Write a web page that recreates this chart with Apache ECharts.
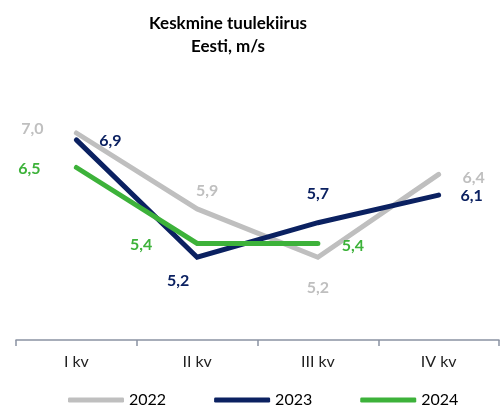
<!DOCTYPE html>
<html>
<head>
<meta charset="utf-8">
<script src="https://cdn.jsdelivr.net/npm/echarts@6/dist/echarts.min.js"></script>
<style>
  html, body { margin: 0; padding: 0; background: #fff; }
  #chart { width: 500px; height: 408px; }
</style>
</head>
<body>
<div id="chart"></div>
<script>
// kvartalid ja aastate keskmised tuulekiirused (m/s)
var aKvartalid = ['I kv', 'II kv', 'III kv', 'IV kv'];
var aAastad = ['2022', '2023', '2024'];
var a2022 = [7.0, 5.9, 5.2, 6.4];
var a2023 = [6.9, 5.2, 5.7, 6.1];
var a2024 = [6.5, 5.4, 5.4];

var sFont = 'Lato';
var aColor = ['#BFBFBF', '#0B2161', '#3DB23A'];

// sildi nihked punkti suhtes, [dx, dy]
var aOffset2022 = [[-44, -4], [10, -18], [0, 31], [35, 3]];
var aOffset2023 = [[34, 1], [-19, 24], [0, -29], [33, 1]];
var aOffset2024 = [[-47, 1], [-56, 1], [35, 2]];

function FormatData(aValues, aOffsets, sColor) {
    var aData = [];
    for (var i = 0; i < aValues.length; i++) {
        aData.push({
            value: aValues[i],
            label: {
                show: true,
                position: 'inside',
                offset: aOffsets[i],
                color: sColor,
                fontFamily: sFont,
                fontWeight: 'bold',
                fontSize: 16,
                formatter: function (p) {
                    return p.value.toFixed(1).replace('.', ',');
                }
            }
        });
    }
    return aData;
}

function MakeSeries(sName, aValues, aOffsets, sColor) {
    return {
        name: sName,
        type: 'line',
        data: FormatData(aValues, aOffsets, sColor),
        symbol: 'circle',
        symbolSize: 1,
        itemStyle: {color: sColor},
        lineStyle: {color: sColor, width: 5, cap: 'round', join: 'miter'},
        emphasis: {disabled: true},
        animation: false
    };
}

var jOption = {
    title: {
        text: 'Keskmine tuulekiirus\nEesti, m/s',
        left: 223,
        top: 7,
        textAlign: 'center',
        textStyle: {
            fontFamily: sFont,
            fontWeight: 'bold',
            fontSize: 17,
            lineHeight: 23,
            color: '#000'
        }
    },
    legend: {
        data: aAastad,
        left: 63,
        top: 387,
        icon: 'roundRect',
        itemWidth: 56,
        itemHeight: 5,
        itemGap: 48,
        textStyle: {fontFamily: sFont, fontSize: 16, color: '#000'}
    },
    grid: {left: 16, right: 1, top: 64, bottom: 68},
    xAxis: {
        type: 'category',
        data: aKvartalid,
        boundaryGap: true,
        axisLine: {lineStyle: {color: '#8A93A3', width: 1.5}},
        axisTick: {show: true, length: 6, lineStyle: {color: '#8A93A3', width: 1.5}},
        axisLabel: {fontFamily: sFont, fontSize: 16, color: '#222', margin: 14}
    },
    yAxis: {
        type: 'value',
        min: 4,
        max: 8,
        show: false,
        splitLine: {show: false}
    },
    series: [
        MakeSeries('2022', a2022, aOffset2022, aColor[0]),
        MakeSeries('2023', a2023, aOffset2023, aColor[1]),
        MakeSeries('2024', a2024, aOffset2024, aColor[2])
    ]
};

var myChart = echarts.init(document.getElementById('chart'));
myChart.setOption(jOption);
</script>
</body>
</html>
